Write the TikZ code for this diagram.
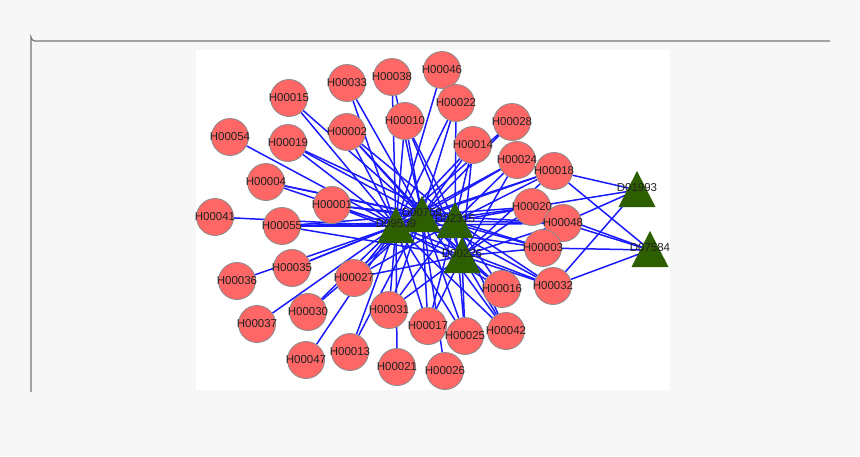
\documentclass[tikz,border=0pt]{standalone}
\usepackage{fontspec}
\setmainfont{Liberation Sans}
\pgfdeclarelayer{back}
\pgfdeclarelayer{edges}
\pgfsetlayers{back,edges,main}
\definecolor{pagebg}{HTML}{F7F7F7}
\definecolor{framec}{HTML}{777777}
\definecolor{herbc}{HTML}{FF6666}
\definecolor{herbborder}{HTML}{8A8A8A}
\definecolor{drugc}{HTML}{2D5F00}
\definecolor{edgec}{HTML}{1A1AFF}
\definecolor{textc}{HTML}{222222}
\tikzset{
  lbl/.style={font=\fontsize{11.5}{13}\selectfont, text=textc, inner sep=0pt},
  herb/.style={circle, fill=herbc, draw=herbborder, line width=0.8pt, minimum size=37pt, inner sep=0pt,
    label={[lbl]center:#1}},
  drugtri/.style={fill=drugc},
  edge/.style={draw=edgec, line width=1.5pt},
}
\newcommand\mydrug[3]{%
  \coordinate (#1) at (#2,#3);
  \fill[drugtri] ([shift={(0,-19)}]#1) -- ([shift={(-18.5,17)}]#1) -- ([shift={(18.5,17)}]#1) -- cycle;
}
\newcommand\mydruglabel[1]{%
  \node[lbl] (#1-l) at ([shift={(0,-2)}]#1) {#1};
}
\begin{document}
\begin{tikzpicture}[x=1pt,y=-1pt]
\useasboundingbox (0,0) rectangle (860,456);
\begin{pgfonlayer}{back}
  \fill[pagebg] (0,0) rectangle (860,456);
  \draw[framec, line width=1.3pt] (830,41) -- (35,41) arc[start angle=90, end angle=180, radius=4] -- (31,392);
  \fill[white] (196,50) rectangle (670,390);
\end{pgfonlayer}

% herbs
\node[herb=H00033] (H00033) at (347,83) {};
\node[herb=H00038] (H00038) at (392,77) {};
\node[herb=H00046] (H00046) at (442,70) {};
\node[herb=H00015] (H00015) at (289,98) {};
\node[herb=H00022] (H00022) at (456,103) {};
\node[herb=H00010] (H00010) at (405,121) {};
\node[herb=H00028] (H00028) at (512,122) {};
\node[herb=H00002] (H00002) at (347,132) {};
\node[herb=H00054] (H00054) at (230,137) {};
\node[herb=H00019] (H00019) at (288,143) {};
\node[herb=H00014] (H00014) at (473,145) {};
\node[herb=H00024] (H00024) at (517,160) {};
\node[herb=H00018] (H00018) at (554,171) {};
\node[herb=H00004] (H00004) at (266,182) {};
\node[herb=H00001] (H00001) at (332,205) {};
\node[herb=H00020] (H00020) at (532,207) {};
\node[herb=H00041] (H00041) at (215,217) {};
\node[herb=H00048] (H00048) at (563,223) {};
\node[herb=H00055] (H00055) at (282,226) {};
\node[herb=H00003] (H00003) at (543,248) {};
\node[herb=H00035] (H00035) at (292,268) {};
\node[herb=H00027] (H00027) at (354,278) {};
\node[herb=H00036] (H00036) at (237,281) {};
\node[herb=H00032] (H00032) at (553,286) {};
\node[herb=H00016] (H00016) at (502,289) {};
\node[herb=H00031] (H00031) at (389,310) {};
\node[herb=H00030] (H00030) at (308,312) {};
\node[herb=H00037] (H00037) at (257,324) {};
\node[herb=H00017] (H00017) at (428,326) {};
\node[herb=H00042] (H00042) at (506,331) {};
\node[herb=H00025] (H00025) at (465,336) {};
\node[herb=H00013] (H00013) at (350,352) {};
\node[herb=H00047] (H00047) at (306,360) {};
\node[herb=H00021] (H00021) at (397,367) {};
\node[herb=H00026] (H00026) at (445,371) {};

% drugs
\mydrug{D09539}{396}{226}
\mydrug{D00759}{422}{215}
\mydrug{D02315}{455}{221}
\mydrug{D00226}{462}{256}
\mydrug{D01993}{637}{190}
\mydrug{D07584}{650}{250}
\mydruglabel{D09539}
\mydruglabel{D00759}
\mydruglabel{D02315}
\mydruglabel{D00226}
\mydruglabel{D01993}
\mydruglabel{D07584}

\begin{pgfonlayer}{edges}
  \foreach \d in {D09539,D00759,D02315,D00226}
    \foreach \h in {H00010,H00001,H00055,H00027,H00031,H00017,H00025,H00042,H00016,H00032,H00003,H00048,H00020,H00018,H00024,H00014,H00002}
      \draw[edge] (\h) -- (\d);
  \foreach \h in {H00054,H00041,H00036,H00037,H00021,H00046,H00015,H00033,H00038,H00019,H00004,H00035,H00030,H00013,H00028,H00022,H00047}
    \draw[edge] (\h) -- (D09539);
  \foreach \h in {H00026,H00015,H00033,H00038,H00019,H00004,H00035,H00030,H00013,H00028,H00022}
    \draw[edge] (\h) -- (D00759);
  \foreach \h in {H00019,H00004,H00022}
    \draw[edge] (\h) -- (D02315);
  \foreach \h in {H00018,H00020,H00032,H00048}
    \draw[edge] (\h) -- (D01993);
  \foreach \h in {H00018,H00048,H00003,H00032,H00020}
    \draw[edge] (\h) -- (D07584);
\end{pgfonlayer}
\end{tikzpicture}
\end{document}
